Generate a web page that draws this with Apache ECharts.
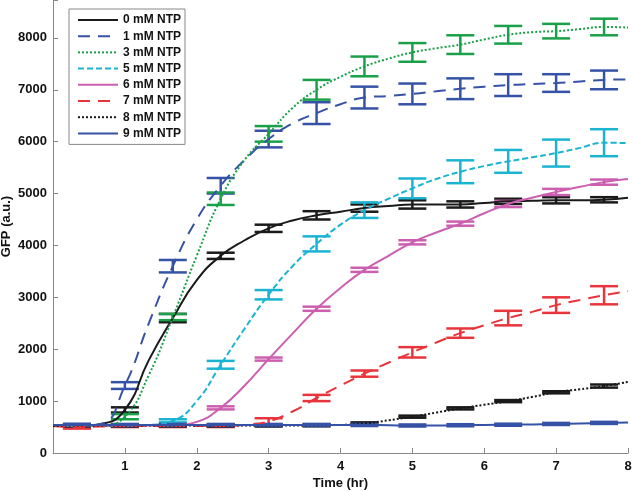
<!DOCTYPE html>
<html>
<head>
<meta charset="utf-8">
<script src="https://cdn.jsdelivr.net/npm/echarts@6/dist/echarts.min.js"></script>
<style>
html,body{margin:0;padding:0;background:#fff;}
#c{width:633px;height:491px;}
</style>
</head>
<body>
<div id="c"></div>
<script>
// Time points (hr), every 20 min
var times = [0, 0.333, 0.667, 1, 1.333, 1.667, 2, 2.333, 2.667, 3, 3.333, 3.667, 4, 4.333, 4.667, 5, 5.333, 5.667, 6, 6.333, 6.667, 7, 7.333, 7.667, 8];
// Times at which error bars are drawn
var errTimes = [0.333, 1, 1.667, 2.333, 3, 3.667, 4.333, 5, 5.667, 6.333, 7, 7.667];

var seriesNames = ['0 mM NTP', '1 mM NTP', '3 mM NTP', '5 mM NTP', '6 mM NTP', '7 mM NTP', '8 mM NTP', '9 mM NTP'];

var gfp0 = [530, 520, 560, 830, 1790, 2600, 3330, 3800, 4100, 4330, 4480, 4580, 4650, 4720, 4760, 4790, 4790, 4790, 4820, 4850, 4860, 4870, 4870, 4880, 4920];
var gfp1 = [540, 530, 560, 1300, 2500, 3600, 4500, 5150, 5650, 6050, 6350, 6550, 6720, 6850, 6880, 6920, 6970, 7020, 7060, 7090, 7110, 7130, 7160, 7190, 7200];
var gfp3 = [520, 520, 530, 700, 1500, 2620, 3800, 4900, 5650, 6150, 6650, 7000, 7250, 7450, 7600, 7720, 7800, 7870, 7970, 8060, 8110, 8130, 8170, 8210, 8200];
var gfp5 = [520, 520, 520, 530, 540, 620, 1000, 1700, 2400, 3050, 3600, 4030, 4400, 4680, 4900, 5100, 5280, 5420, 5530, 5620, 5700, 5780, 5880, 5980, 5970];
var gfp6 = [530, 530, 530, 530, 530, 535, 600, 870, 1300, 1810, 2300, 2780, 3180, 3530, 3800, 4060, 4250, 4420, 4620, 4800, 4920, 5030, 5130, 5220, 5280];
var gfp7 = [520, 500, 510, 520, 520, 520, 520, 520, 540, 610, 800, 1060, 1300, 1530, 1740, 1940, 2130, 2310, 2460, 2600, 2720, 2850, 2950, 3040, 3120];
var gfp8 = [520, 530, 530, 530, 530, 530, 530, 530, 530, 530, 530, 535, 540, 570, 630, 700, 780, 860, 930, 1000, 1080, 1170, 1230, 1290, 1370];
var gfp9 = [540, 540, 540, 540, 540, 540, 540, 540, 540, 540, 540, 540, 540, 540, 535, 530, 530, 535, 540, 545, 550, 560, 570, 580, 590];

// Error bar half-widths at errTimes
var err0 = [30, 50, 80, 60, 70, 80, 70, 80, 60, 50, 60, 50];
var err1 = [30, 65, 120, 150, 160, 210, 210, 200, 200, 210, 170, 180];
var err3 = [20, 50, 60, 120, 150, 190, 190, 180, 180, 170, 140, 160];
var err5 = [20, 20, 30, 75, 90, 145, 150, 190, 220, 220, 260, 260];
var err6 = [20, 20, 20, 30, 30, 40, 40, 40, 40, 60, 60, 50];
var err7 = [30, 20, 20, 20, 60, 60, 60, 100, 90, 140, 150, 175];
var err8 = [20, 20, 20, 20, 20, 20, 20, 20, 20, 20, 20, 30];
var err9 = [20, 20, 20, 20, 20, 20, 20, 20, 20, 20, 20, 20];

var allValues = [gfp0, gfp1, gfp3, gfp5, gfp6, gfp7, gfp8, gfp9];
var allErrs = [err0, err1, err3, err5, err6, err7, err8, err9];

var colors = ['#1a1a1a', '#3652a6', '#19a049', '#1ab4d2', '#cc5fb0', '#e8353c', '#1a1a1a', '#3652a6'];
var dashes = ['solid', [12, 8], [2, 2], [6, 3], 'solid', [12, 8], [2, 2], 'solid'];

var FONT = 'Liberation Sans, Arial, sans-serif';

function valueAt(arr, t) {
  for (var i = 0; i < times.length; i++) {
    if (Math.abs(times[i] - t) < 1e-6) return arr[i];
  }
  return null;
}

var series = [];
for (var s = 0; s < seriesNames.length; s++) {
  var vals = allValues[s];
  var lineData = times.map(function (t, i) { return [t, vals[i]]; });
  var errData = errTimes.map(function (t, i) { return [t, valueAt(vals, t), allErrs[s][i]]; });
  (function (col) {
    series.push({
      type: 'custom',
      name: seriesNames[s] + ' err',
      data: errData,
      silent: true,
      z: 3,
      renderItem: function (params, api) {
        var x = api.value(0), m = api.value(1), e = api.value(2);
        var lo = api.coord([x, m - e]);
        var hi = api.coord([x, m + e]);
        var hw = 14;
        var st = { stroke: col, lineWidth: 2.5 };
        return {
          type: 'group',
          children: [
            { type: 'line', shape: { x1: lo[0], y1: lo[1], x2: hi[0], y2: hi[1] }, style: st },
            { type: 'line', shape: { x1: lo[0] - hw, y1: lo[1], x2: lo[0] + hw, y2: lo[1] }, style: st },
            { type: 'line', shape: { x1: hi[0] - hw, y1: hi[1], x2: hi[0] + hw, y2: hi[1] }, style: st }
          ]
        };
      }
    });
  })(colors[s]);
  series.push({
    type: 'line',
    name: seriesNames[s],
    data: lineData,
    showSymbol: false,
    symbol: 'none',
    smooth: 0.5,
    z: 4,
    lineStyle: { color: colors[s], width: 2, type: dashes[s] },
    itemStyle: { color: colors[s] }
  });
}

var chart = echarts.init(document.getElementById('c'));
chart.setOption({
  animation: false,
  backgroundColor: '#fff',
  grid: { left: 53, right: 5, top: 0, bottom: 38, containLabel: false, outerBoundsMode: 'none' },
  legend: {
    data: seriesNames,
    orient: 'vertical',
    left: 69,
    top: 9,
    padding: [5, 4, 5, 8],
    itemWidth: 40,
    itemHeight: 10,
    itemGap: 4.2,
    backgroundColor: '#fff',
    borderColor: '#888',
    borderWidth: 1,
    itemStyle: { opacity: 0 },
    textStyle: { fontFamily: FONT, fontSize: 12, color: '#111', fontWeight: 'bold' }
  },
  xAxis: {
    type: 'value',
    min: 0,
    max: 8,
    interval: 1,
    name: 'Time (hr)',
    nameLocation: 'middle',
    nameGap: 24,
    nameMoveOverlap: false,
    nameTextStyle: { fontFamily: FONT, fontSize: 13, color: '#111', fontWeight: 'bold' },
    axisLine: { lineStyle: { color: '#888', width: 1 } },
    axisTick: { inside: true, length: 5, lineStyle: { color: '#888' } },
    axisLabel: {
      fontFamily: FONT, fontSize: 13, color: '#111', fontWeight: 'bold', margin: 7,
      formatter: function (v) { return v === 0 ? '' : String(v); }
    },
    splitLine: { show: false }
  },
  yAxis: {
    type: 'value',
    min: 0,
    max: 8730,
    interval: 1000,
    name: 'GFP (a.u.)',
    nameLocation: 'middle',
    nameGap: 40,
    nameMoveOverlap: false,
    nameTextStyle: { fontFamily: FONT, fontSize: 13, color: '#111', fontWeight: 'bold' },
    axisLine: { show: true, lineStyle: { color: '#888', width: 1 } },
    axisTick: { inside: true, length: 5, lineStyle: { color: '#888' } },
    axisLabel: {
      fontFamily: FONT, fontSize: 13, color: '#111', fontWeight: 'bold', margin: 6,
      formatter: function (v) { return (v % 1000 === 0) ? String(v) : ''; }
    },
    splitLine: { show: false }
  },
  series: series
});
</script>
</body>
</html>
